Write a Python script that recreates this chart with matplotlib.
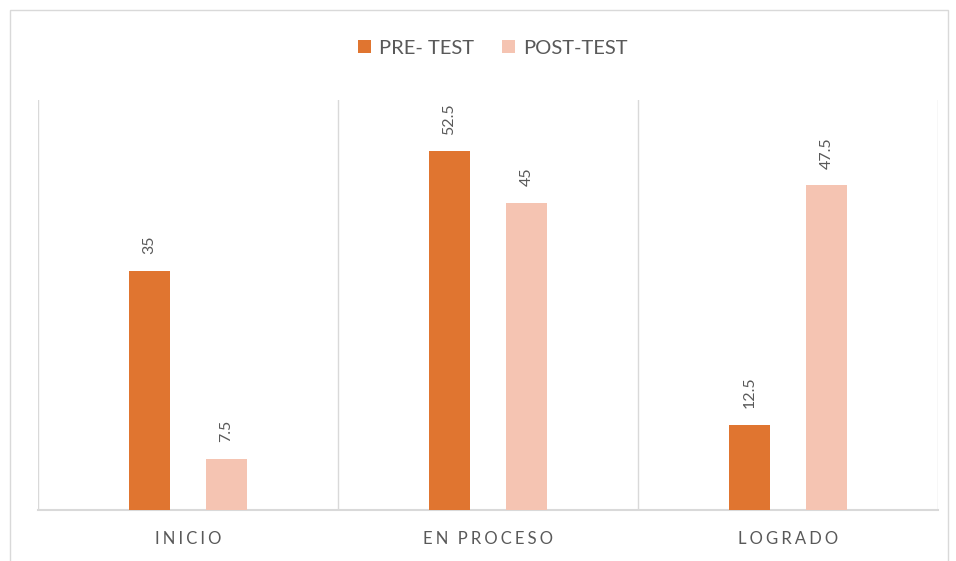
import numpy as np
import matplotlib.pyplot as plt
from matplotlib.patches import Rectangle

categories = ['INICIO', 'EN PROCESO', 'LOGRADO']
pre_test = [35, 52.5, 12.5]
post_test = [7.5, 45, 47.5]
series_names = ['PRE- TEST', 'POST-TEST']

c_pre = '#E07530'
c_post = '#F5C4B2'
txt = '#595959'
line = '#D9D9D9'

plt.rcParams['font.family'] = ['Lato', 'DejaVu Sans']

fig = plt.figure(figsize=(9.56, 5.61), dpi=100)
ax = fig.add_axes([38 / 956, 51 / 561, 900 / 956, 410 / 561])

x = np.arange(len(categories))
w = 0.135
off = 0.128
b1 = ax.bar(x - off, pre_test, w, color=c_pre, label=series_names[0], zorder=3)
b2 = ax.bar(x + off, post_test, w, color=c_post, label=series_names[1], zorder=3)

for bars, vals in ((b1, pre_test), (b2, post_test)):
    for r, v in zip(bars, vals):
        ax.text(r.get_x() + r.get_width() / 2, v + 2.4, f'{v:g}', rotation=90,
                ha='center', va='bottom', fontsize=11.5, color=txt)

ax.set_xlim(-0.5, 2.5)
ax.set_ylim(0, 60)
ax.set_yticks([])
ax.set_xticks(x)
sep = '\u2009\u200a'
spaced = [sep.join(c).replace(sep + ' ' + sep, sep * 3) for c in categories]
ax.set_xticklabels(spaced, fontsize=12, color=txt)
ax.tick_params(axis='x', length=0, pad=15)

for s in ['top', 'right', 'left']:
    ax.spines[s].set_visible(False)
ax.spines['bottom'].set_color(line)
ax.spines['bottom'].set_linewidth(1.5)
for b in [-0.5, 0.5, 1.5, 2.5]:
    ax.axvline(b, color=line, lw=1, zorder=1)

ax.legend(loc='center', bbox_to_anchor=(493 / 956, 1 - 48 / 561), bbox_transform=fig.transFigure,
          ncol=2, frameon=False, fontsize=14.5, labelcolor=txt, handlelength=0.65,
          handleheight=0.65, handletextpad=0.4, columnspacing=1.4)

fig.patches.append(Rectangle((10 / 956, -0.1), 938 / 956, 1.1 - 10 / 561,
                             transform=fig.transFigure, fill=False, ec=line, lw=1))

fig.savefig('out.png', dpi=100)
